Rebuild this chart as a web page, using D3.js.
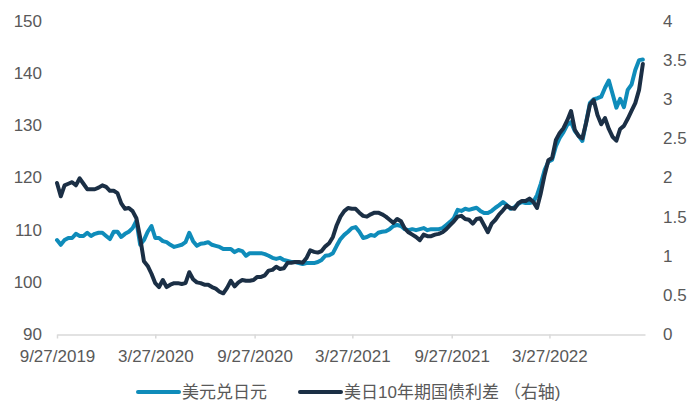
<!DOCTYPE html>
<html><head><meta charset="utf-8">
<script src="https://cdn.jsdelivr.net/npm/d3@7"></script>
<style>
body{margin:0;background:#fff;}
text{font-family:"Liberation Sans",Arial,"Noto Sans CJK SC",sans-serif;}
</style></head>
<body><svg id="c" width="700" height="420"></svg>
<script>
const startDate = "2019-09-27";
const endDate = "2022-09-20";
const tickDates = ["2019-09-27","2020-03-27","2020-09-27","2021-03-27","2021-09-27","2022-03-27"];
const tickLabels = ["9/27/2019","3/27/2020","9/27/2020","3/27/2021","9/27/2021","3/27/2022"];
const leftTicks = [90,100,110,120,130,140,150];
const rightTicks = [0,0.5,1,1.5,2,2.5,3,3.5,4];
const legendLabels = ["美元兑日元","美日10年期国债利差 （右轴)"];
// weekly, starting 9/27/2019
const usdjpy = [
108.0,107.1,108.0,108.4,108.4,109.2,108.8,108.8,109.4,108.8,
109.2,109.4,109.4,108.8,108.2,109.6,109.6,108.6,109.2,109.6,
110.3,111.7,107.1,108.0,109.6,110.7,108.4,108.4,107.8,107.6,
107.1,106.7,106.9,107.1,107.6,109.4,107.8,106.9,107.3,107.4,
107.6,107.1,106.9,106.7,106.3,106.3,106.3,105.7,106.1,105.9,
105.0,105.5,105.5,105.5,105.5,105.3,105.0,104.6,104.4,104.6,
104.2,104.0,103.8,103.8,103.6,103.4,103.6,103.6,103.6,103.8,
104.2,105.0,105.1,105.5,106.9,108.2,109.0,109.6,110.3,110.5,
109.6,108.4,108.6,109.0,108.8,109.4,109.6,109.7,110.1,110.7,
110.9,110.7,110.1,109.9,110.1,109.9,110.1,110.3,109.9,110.1,
110.1,110.1,110.3,110.9,111.5,112.2,113.8,113.6,114.0,113.8,
114.0,114.2,113.6,113.2,113.2,113.6,114.2,114.7,115.3,114.7,
114.0,114.3,114.9,115.3,115.1,115.1,115.3,116.6,118.8,121.4,
123.0,123.4,126.0,127.6,128.7,130.1,130.6,128.9,128.0,127.0,
130.6,134.3,135.0,135.2,135.5,137.2,138.6,136.0,133.4,135.1,
133.5,136.8,137.8,140.6,142.5,142.6
];
const spread = [
1.93,1.76,1.90,1.92,1.94,1.90,1.99,1.92,1.85,1.85,
1.85,1.87,1.90,1.88,1.83,1.83,1.80,1.67,1.60,1.61,
1.57,1.48,1.23,0.93,0.87,0.77,0.65,0.60,0.69,0.60,
0.63,0.65,0.65,0.64,0.65,0.79,0.70,0.66,0.65,0.63,
0.63,0.60,0.58,0.54,0.52,0.59,0.68,0.61,0.66,0.69,
0.68,0.68,0.69,0.73,0.73,0.75,0.81,0.82,0.86,0.83,
0.84,0.91,0.91,0.92,0.92,0.91,0.97,1.07,1.05,1.04,
1.06,1.12,1.16,1.24,1.39,1.50,1.57,1.61,1.60,1.60,
1.55,1.51,1.50,1.53,1.55,1.55,1.53,1.50,1.46,1.42,
1.47,1.44,1.35,1.30,1.27,1.24,1.20,1.27,1.25,1.25,
1.27,1.28,1.30,1.34,1.39,1.44,1.50,1.51,1.47,1.46,
1.41,1.47,1.48,1.39,1.30,1.41,1.46,1.53,1.58,1.64,
1.61,1.60,1.67,1.70,1.70,1.73,1.69,1.61,1.80,2.03,
2.22,2.25,2.48,2.57,2.63,2.73,2.85,2.61,2.53,2.50,
2.70,2.93,2.99,2.80,2.68,2.76,2.62,2.52,2.47,2.62,
2.66,2.75,2.85,2.95,3.12,3.45
];

const parse = d3.timeParse("%Y-%m-%d");
const t0 = parse(startDate);
const dates = usdjpy.map((_, i) => d3.timeDay.offset(t0, 7 * i));

const svg = d3.select("#c");
const M = {left:57, right:645, top:21, bottom:334};
const x = d3.scaleTime().domain([t0, parse(endDate)]).range([M.left, M.right]);
const yL = d3.scaleLinear().domain([90,150]).range([M.bottom, M.top]);
const yR = d3.scaleLinear().domain([0,4]).range([M.bottom, M.top]);

const labelColor = "#595959";
const blue = "#0f8cba", dark = "#1b2f45";
const FS = 17;

// x axis
const xAxis = d3.axisBottom(x).tickValues(tickDates.map(parse))
  .tickFormat((d,i) => tickLabels[i]).tickSize(4).tickPadding(3).tickSizeOuter(0);
const gx = svg.append("g").attr("transform", `translate(0,${M.bottom + 0.5})`).call(xAxis);
gx.select(".domain").attr("stroke", "#d9d9d9").attr("stroke-width", 1.5);
gx.selectAll(".tick line").attr("stroke", "#d9d9d9").attr("stroke-width", 1.5);
gx.selectAll(".tick text").attr("fill", labelColor).attr("font-size", FS).attr("dy", "1.2em");

// left axis
const gl = svg.append("g").attr("transform", `translate(${M.left},0)`)
  .call(d3.axisLeft(yL).tickValues(leftTicks).tickSize(0).tickPadding(15));
gl.select(".domain").remove();
gl.selectAll(".tick text").attr("fill", labelColor).attr("font-size", FS);

// right axis
const gr = svg.append("g").attr("transform", `translate(${M.right},0)`)
  .call(d3.axisRight(yR).tickValues(rightTicks).tickSize(0).tickPadding(18).tickFormat(d3.format("")));
gr.select(".domain").remove();
gr.selectAll(".tick text").attr("fill", labelColor).attr("font-size", FS);

// lines
const lineL = d3.line().x((d,i) => x(dates[i])).y(d => yL(d));
const lineR = d3.line().x((d,i) => x(dates[i])).y(d => yR(d));
svg.append("path").datum(usdjpy).attr("d", lineL).attr("fill","none")
  .attr("stroke", blue).attr("stroke-width", 4).attr("stroke-linejoin","round").attr("stroke-linecap","round");
svg.append("path").datum(spread).attr("d", lineR).attr("fill","none")
  .attr("stroke", dark).attr("stroke-width", 4).attr("stroke-linejoin","round").attr("stroke-linecap","round");

// legend
const leg = [{x:138, color:blue, label:legendLabels[0]},{x:300, color:dark, label:legendLabels[1]}];
const lg = svg.append("g");
leg.forEach(l => {
  lg.append("line").attr("x1", l.x).attr("x2", l.x+41).attr("y1", 392).attr("y2", 392)
    .attr("stroke", l.color).attr("stroke-width", 4).attr("stroke-linecap","round");
  lg.append("text").attr("x", l.x+44).attr("y", 392).attr("dy","0.35em")
    .attr("fill", labelColor).attr("font-size", FS).text(l.label);
});
</script></body></html>
